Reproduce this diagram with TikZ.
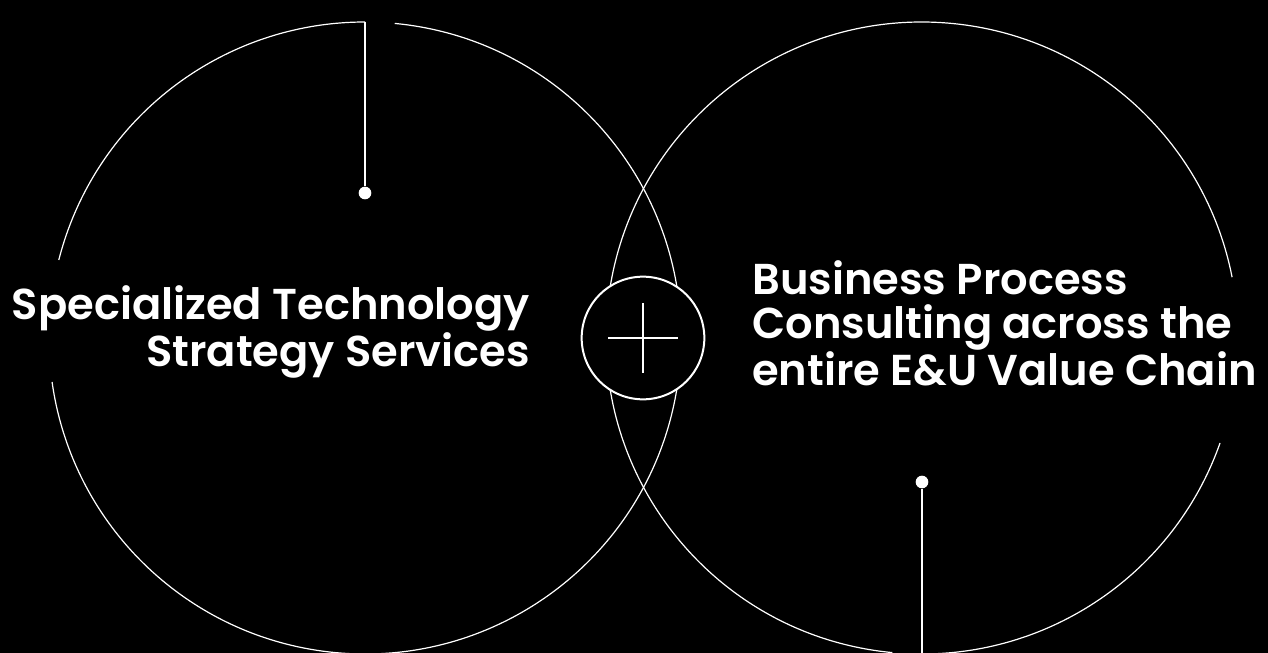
\documentclass[tikz,border=0pt]{standalone}
\usepackage{fontspec}
\newfontfamily\blurbfont{Poppins SemiBold}
\usetikzlibrary{positioning}

\begin{document}
\begin{tikzpicture}[%
x=0.75pt, y=-0.75pt,
ring/.style={white, line width=0.9pt},
stem/.style={white, line width=1.5pt},
pin/.style={circle, fill=white, inner sep=0pt, minimum size=9.5pt},
plusring/.style={circle, draw=white, fill=black, line width=1.5pt, minimum size=92pt},
blurb/.style={white, inner sep=0pt, font=\blurbfont\fontsize{32.4}{33}\selectfont}
]
\fill[black] (0,0) rectangle (1268,653);
\useasboundingbox (0,0) rectangle (1268,653);

% two big rings, open where the texts and stems are
\draw[ring] (365,338) ++(-84.6:316) arc[start angle=-84.6, end angle=172, radius=316];
\draw[ring] (365,338) ++(194.3:316) arc[start angle=194.3, end angle=270, radius=316];
\draw[ring] (922,338) ++(19.4:316) arc[start angle=19.4, end angle=90, radius=316];
\draw[ring] (922,338) ++(95.4:316) arc[start angle=95.4, end angle=348.9, radius=316];

\node[plusring] (plus) at (643,338) {};
\draw[stem] ([xshift=-26pt]plus.center) -- ([xshift=26pt]plus.center);
\draw[stem] ([yshift=-26pt]plus.center) -- ([yshift=26pt]plus.center);

\node[pin] (ldot) at (365,193) {};
\coordinate (ltop) at (365,22);
\node[pin] (rdot) at (922,482) {};
\coordinate (rbot) at (922,653);
\draw[stem] (ldot) -- (ltop);
\draw[stem] (rdot) -- (rbot);

\node[blurb, anchor=base east, align=right] (ltext) at (530,366)
  {Specialized Technology\\Strategy Services};
\node[blurb, anchor=base west, align=left] (rtext) at (752,385)
  {Business Process\\Consulting across the\\entire E\&U Value Chain};
\end{tikzpicture}
\end{document}
